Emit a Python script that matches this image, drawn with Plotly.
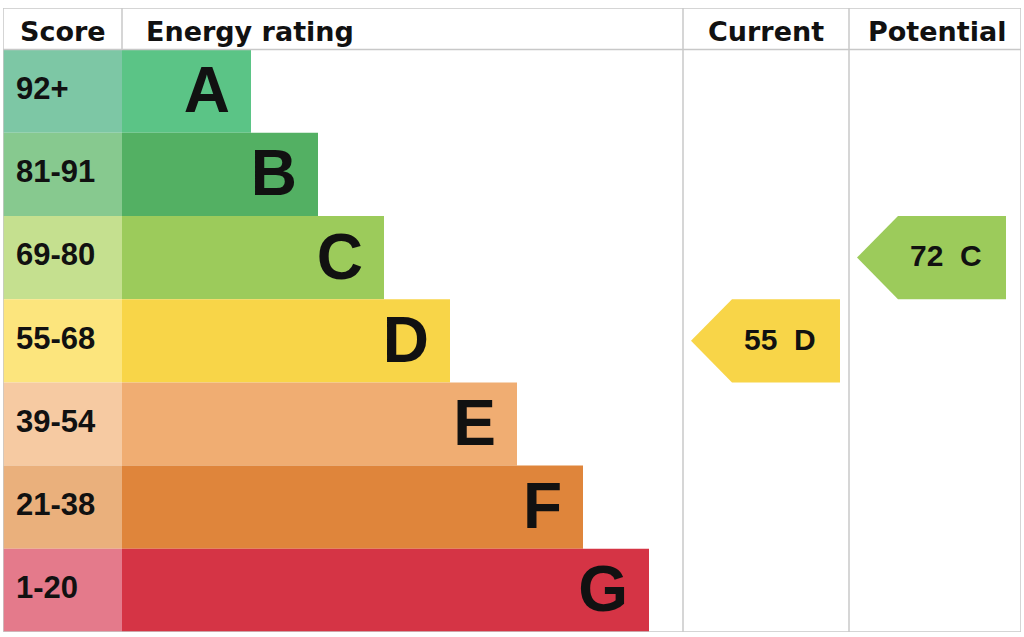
import plotly.graph_objects as go

# EPC bands, best first
bands = ["A", "B", "C", "D", "E", "F", "G"]
score_ranges = ["92+", "81-91", "69-80", "55-68", "39-54", "21-38", "1-20"]
band_floor = [92, 81, 69, 55, 39, 21, 1]
bar_lengths = [129, 196, 262, 328, 395, 461, 527]
bar_colors = ["#5bc486", "#53b063", "#9ccb5b", "#f8d548", "#f0ad72", "#df853b", "#d53445"]
cell_colors = ["#7dc7a5", "#87c98f", "#c5e08f", "#fce57d", "#f6caa2", "#eab07c", "#e47a8b"]

current_score = 55
potential_score = 72

W = 1018          # x units == pixels of the plot area
SCORE_W = 119     # score column width
COL_CUR = 680     # left edge of "Current" column
COL_POT = 846     # left edge of "Potential" column
LINE = "#c8c8c8"
BODY = "Liberation Sans, Arial, sans-serif"
HEAD = "DejaVu Sans, sans-serif"

rows = list(range(1, len(bands) + 1))


def band_of(score):
    for i, lo in enumerate(band_floor):
        if score >= lo:
            return i
    return len(bands) - 1


fig = go.Figure()

# score cells
fig.add_trace(go.Bar(
    orientation="h", y=rows, x=[SCORE_W] * len(rows), base=0, width=1,
    marker=dict(color=cell_colors, line_width=0), hoverinfo="skip",
))
# rating bars
fig.add_trace(go.Bar(
    orientation="h", y=rows, x=bar_lengths, base=SCORE_W, width=1,
    marker=dict(color=bar_colors, line_width=0), hoverinfo="skip",
))
# score labels
fig.add_trace(go.Scatter(
    x=[13] * len(rows), y=rows, mode="text", text=score_ranges,
    textposition="middle right",
    textfont=dict(family=BODY, size=31, color="#111", weight="bold"),
    hoverinfo="skip",
))
# band letters (sit a touch below the row middle)
fig.add_trace(go.Scatter(
    x=[SCORE_W + L - 21 for L in bar_lengths], y=[r + 0.06 for r in rows],
    mode="text", text=bands, textposition="middle left",
    textfont=dict(family=BODY, size=64, color="#111", weight="bold"),
    hoverinfo="skip",
))


def add_arrow(score, col_left):
    i = band_of(score)
    c = rows[i]
    tip = col_left + 8
    right = tip + 149
    neck = tip + 41
    fig.add_trace(go.Scatter(
        x=[tip, neck, right, right, neck, tip],
        y=[c, c - 0.5, c - 0.5, c + 0.5, c + 0.5, c],
        fill="toself", fillcolor=bar_colors[i], mode="lines",
        line=dict(width=0, color=bar_colors[i]), hoverinfo="skip",
    ))
    fig.add_annotation(
        x=(tip + right) / 2 + 14, y=c - 0.02, text=f"{score}\u00a0\u00a0{bands[i]}",
        showarrow=False, xanchor="center", yanchor="middle",
        font=dict(family=BODY, size=30, color="#111", weight="bold"),
    )


add_arrow(current_score, COL_CUR)
add_arrow(potential_score, COL_POT)

# headers
head_font = dict(family=HEAD, size=27, color="#111", weight="bold")
hy = 0.28
fig.add_annotation(x=SCORE_W / 2, y=hy, text="Score", showarrow=False, font=head_font)
fig.add_annotation(x=SCORE_W + 22, y=hy, text="Energy rating", showarrow=False,
                   xanchor="left", font=head_font)
fig.add_annotation(x=(COL_CUR + COL_POT) / 2, y=hy, text="Current", showarrow=False, font=head_font)
fig.add_annotation(x=(COL_POT + W) / 2 + 2, y=hy, text="Potential", showarrow=False, font=head_font)

# table lines
ln = dict(color=LINE, width=1.5)
fig.add_shape(type="rect", x0=0, x1=W, y0=0, y1=7.5, line=ln)
fig.add_shape(type="line", x0=0, x1=W, y0=0.5, y1=0.5, line=ln)
fig.add_shape(type="line", x0=SCORE_W, x1=SCORE_W, y0=0, y1=0.5, line=ln)
fig.add_shape(type="line", x0=COL_CUR, x1=COL_CUR, y0=0, y1=7.5, line=ln)
fig.add_shape(type="line", x0=COL_POT, x1=COL_POT, y0=0, y1=7.5, line=ln)

fig.update_layout(
    width=1024, height=637,
    margin=dict(l=3, r=3, t=8, b=5),
    barmode="overlay",
    showlegend=False,
    plot_bgcolor="white", paper_bgcolor="white",
    xaxis=dict(range=[0, W], visible=False, fixedrange=True),
    yaxis=dict(range=[7.5, 0], visible=False, fixedrange=True),
)

# page body has a default 8px margin; drop it so the figure sits at the window origin
fig.write_html(
    "out.html",
    config={"displayModeBar": False},
    post_script="document.body.style.margin='0';document.body.style.overflow='hidden';",
)
